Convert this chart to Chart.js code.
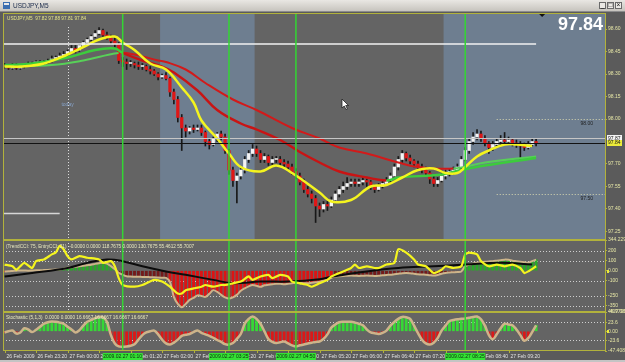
<!DOCTYPE html>
<html>
<head>
<meta charset="utf-8">
<script src="https://cdn.jsdelivr.net/npm/chart.js@4.4.1/dist/chart.umd.min.js"></script>
<style>
  html, body { margin: 0; padding: 0; background: #5b5b5b; overflow: hidden; }
  #mt { display: block; }
</style>
</head>
<body>
<canvas id="mt" width="625" height="362"></canvas>
<script>
// USDJPY M5, bar 0 = 26 Feb 2009 22:40, one bar every 5 minutes
const barOpen = [
  98.36,98.35,98.34,98.36,98.34,98.35,98.36,98.37,98.36,98.38,
  98.37,98.38,98.39,98.40,98.41,98.42,98.43,98.45,98.47,98.46,
  98.49,98.51,98.53,98.55,98.57,98.59,98.56,98.54,98.52,98.50,
  98.39,98.38,98.37,98.37,98.36,98.35,98.35,98.33,98.32,98.30,
  98.28,98.29,98.27,98.18,98.13,98.01,97.94,97.92,97.94,97.93,
  97.94,97.91,97.85,97.83,97.87,97.90,97.88,97.79,97.66,97.59,
  97.62,97.66,97.73,97.77,97.80,97.77,97.73,97.75,97.71,97.73,
  97.73,97.71,97.70,97.68,97.65,97.62,97.58,97.53,97.50,97.47,
  97.42,97.40,97.43,97.42,97.46,97.50,97.53,97.55,97.57,97.58,
  97.57,97.58,97.59,97.58,97.55,97.53,97.55,97.57,97.59,97.62,
  97.68,97.73,97.77,97.74,97.72,97.70,97.68,97.66,97.64,97.60,
  97.57,97.59,97.62,97.64,97.65,97.66,97.68,97.73,97.79,97.85,
  97.88,97.90,97.87,97.84,97.81,97.83,97.85,97.86,97.85,97.86,
  97.84,97.83,97.82,97.81,97.83,97.85
];
const barHigh = [
  98.37,98.36,98.37,98.37,98.36,98.37,98.38,98.38,98.39,98.39,
  98.39,98.40,98.42,98.42,98.44,98.45,98.46,98.49,98.49,98.50,
  98.52,98.54,98.56,98.59,98.61,98.60,98.58,98.56,98.54,98.51,
  98.41,98.40,98.39,98.38,98.38,98.37,98.36,98.35,98.33,98.31,
  98.30,98.31,98.28,98.20,98.15,98.03,97.96,97.95,97.96,97.96,
  97.96,97.92,97.87,97.88,97.91,97.92,97.90,97.80,97.68,97.64,
  97.68,97.75,97.79,97.83,97.82,97.79,97.77,97.76,97.75,97.75,
  97.75,97.73,97.72,97.70,97.67,97.64,97.60,97.55,97.52,97.49,
  97.44,97.45,97.45,97.48,97.52,97.55,97.58,97.61,97.60,97.60,
  97.60,97.61,97.60,97.59,97.56,97.57,97.59,97.61,97.64,97.70,
  97.75,97.79,97.78,97.76,97.73,97.72,97.70,97.68,97.65,97.62,
  97.61,97.64,97.66,97.67,97.68,97.70,97.75,97.81,97.87,97.91,
  97.93,97.92,97.89,97.85,97.85,97.87,97.89,97.91,97.88,97.87,
  97.86,97.85,97.84,97.85,97.87,97.87
];
const barLow = [
  98.34,98.33,98.33,98.33,98.33,98.34,98.35,98.35,98.35,98.36,
  98.36,98.37,98.38,98.39,98.40,98.41,98.42,98.44,98.44,98.45,
  98.48,98.50,98.52,98.54,98.56,98.55,98.53,98.50,98.48,98.37,
  98.35,98.33,98.35,98.34,98.33,98.33,98.32,98.30,98.29,98.26,
  98.27,98.26,98.15,98.10,97.98,97.79,97.88,97.90,97.91,97.92,
  97.89,97.82,97.80,97.82,97.85,97.86,97.77,97.63,97.55,97.44,
  97.60,97.64,97.71,97.75,97.75,97.71,97.71,97.69,97.69,97.71,
  97.69,97.68,97.66,97.63,97.60,97.56,97.51,97.48,97.44,97.31,
  97.35,97.38,97.39,97.41,97.44,97.48,97.51,97.53,97.55,97.55,
  97.55,97.56,97.55,97.53,97.51,97.52,97.54,97.56,97.58,97.61,
  97.66,97.71,97.72,97.70,97.68,97.66,97.64,97.62,97.57,97.55,
  97.55,97.58,97.60,97.62,97.63,97.64,97.67,97.72,97.77,97.83,
  97.86,97.85,97.82,97.77,97.79,97.81,97.83,97.83,97.83,97.82,
  97.81,97.73,97.79,97.80,97.82,97.82
];
const barClose = [
  98.35,98.34,98.36,98.34,98.35,98.36,98.37,98.36,98.38,98.37,
  98.38,98.39,98.40,98.41,98.42,98.43,98.45,98.47,98.46,98.49,
  98.51,98.53,98.55,98.57,98.59,98.56,98.54,98.52,98.50,98.39,
  98.38,98.37,98.37,98.36,98.35,98.35,98.33,98.32,98.30,98.28,
  98.29,98.27,98.18,98.13,98.01,97.94,97.92,97.94,97.93,97.94,
  97.91,97.85,97.83,97.87,97.90,97.88,97.79,97.66,97.59,97.62,
  97.66,97.73,97.77,97.80,97.77,97.73,97.75,97.71,97.73,97.73,
  97.71,97.70,97.68,97.65,97.62,97.58,97.53,97.50,97.47,97.42,
  97.40,97.43,97.42,97.46,97.50,97.53,97.55,97.57,97.58,97.57,
  97.58,97.59,97.58,97.55,97.53,97.55,97.57,97.59,97.62,97.68,
  97.73,97.77,97.74,97.72,97.70,97.68,97.66,97.64,97.60,97.57,
  97.59,97.62,97.64,97.65,97.66,97.68,97.73,97.79,97.85,97.88,
  97.90,97.87,97.84,97.81,97.83,97.85,97.86,97.85,97.86,97.84,
  97.83,97.82,97.81,97.83,97.85,97.84
];

// moving averages, [bar, price]
const maYellow = [[0,98.35],[4,98.35],[10,98.37],[16,98.43],[20,98.48],[24,98.53],[28,98.55],[30,98.51],
  [33,98.46],[37,98.37],[41,98.33],[45,98.21],[48,98.11],[50,97.99],[54,97.87],[57,97.77],[60,97.68],
  [65,97.65],[69,97.69],[73,97.64],[80,97.51],[83,97.45],[88,97.46],[93,97.55],[97,97.56],[101,97.61],
  [105,97.66],[109,97.67],[112,97.64],[115,97.64],[117,97.68],[120,97.75],[123,97.79],[127,97.83],
  [130,97.83],[134,97.82]];
const maSlow = [[0,98.35],[12,98.36],[20,98.39],[29,98.44],[33,98.43],[39,98.39],[41,98.38],[46,98.33],
  [51,98.24],[58,98.13],[64,98.06],[73,97.94],[80,97.87],[85,97.81],[92,97.77],[100,97.71],[105,97.68],
  [114,97.67],[122,97.71],[135,97.75]];
const maFast = [[0,98.36],[7,98.37],[16,98.41],[23,98.46],[28,98.47],[30,98.44],[35,98.39],[40,98.35],
  [43,98.31],[49,98.19],[54,98.06],[60,97.97],[64,97.93],[70,97.86],[75,97.78],[80,97.71],[85,97.65],
  [92,97.61],[97,97.59],[100,97.61],[111,97.63],[116,97.66],[122,97.69],[135,97.74]];

// TrendCCI histogram, one value per bar
const cciTrend = [
  -8,-6,-3,0,3,2,0,2,5,4,6,8,10,12,
  12,20,30,35,40,45,50,55,60,68,75,80,70,45,15,
  -20,-40,-55,-58,-60,-60,-62,-62,-65,-65,-68,-70,-72,-110,
  -260,-330,-362,-330,-290,-270,-245,-250,-260,
  -230,-193,-210,-240,-265,-277,-265,
  -240,-200,-175,-155,-142,-150,-160,
  -145,-140,-135,-130,-130,-135,-130,-125,-120,
  -120,-125,-125,-120,-115,-110,-100,-85,-70,
  -58,-55,-52,-50,-48,-50,-52,-50,-48,-50,-52,-50,-45,-42,-40,-35,
  -30,-25,-22,-25,-30,-35,-38,-40,-45,-48,-42,
  -30,-22,-18,-15,-12,-8,
  45,60,70,80,85,88,92,95,100,105,110,108,100,95,90,85,80,95,110
];
// EntryCCI and signal line, [bar, value]
const cciEntry = [[0,61],[2,44],[3,10],[4,44],[5,78],[7,27],[8,95],[10,112],[12,162],[13,180],[14,247],
  [15,213],[16,145],[17,112],[19,145],[21,129],[24,112],[25,78],[27,95],[28,44],[29,-74],[30,-142],
  [33,-159],[35,-142],[38,-91],[40,-108],[42,-159],[44,-227],[45,-227],[46,-193],[48,-176],[50,-159],
  [51,-142],[53,-159],[55,-142],[56,-142],[58,-125],[60,-108],[62,-57],[63,-91],[65,-57],[67,-41],
  [68,-74],[70,-41],[72,-57],[73,-108],[75,-125],[77,-142],[78,-159],[80,-125],[82,-91],[83,-57],
  [86,-7],[88,27],[89,61],[90,27],[92,44],[94,27],[95,27],[97,61],[99,78],[100,213],[102,180],
  [104,112],[105,61],[107,44],[109,-23],[111,10],[112,44],[114,27],[116,44],[117,162],[118,180],
  [120,162],[121,95],[123,44],[125,61],[127,44],[129,61],[131,27],[132,-23],[133,-7],[135,44]];
const cciSignal = [[0,-58],[7,-23],[16,27],[21,78],[26,112],[30,95],[35,44],[41,-7],[46,-41],[53,-91],
  [58,-125],[65,-108],[72,-108],[80,-85],[83,-60],[92,-7],[100,27],[109,44],[117,61],[126,78],[134,61]];

// Stochastic (5,1,3) histogram, one value per bar
const stochHist = [
  -3,0,2,-6,-3,8,5,-2,4,12,
  20,24,26,25,23,20,12,5,-3,3,
  15,25,30,35,38,37,25,-10,-32,-40,
  -41,-40,-38,-34,-22,-10,-3,0,2,-8,
  -22,-32,-35,-30,-22,-12,-9,-7,-2,2,
  -4,-8,-12,-17,-23,-28,-34,-35,-31,-20,
  -7,20,33,39,33,20,0,-20,-28,-31,
  -29,-27,-32,-37,-40,-37,-35,-32,-30,-28,
  -27,-20,-8,10,18,24,25,25,25,23,
  20,16,5,-3,-5,-7,-4,2,15,25,
  33,38,37,33,15,-5,-22,-32,-35,-30,
  -18,2,15,27,30,32,33,34,36,38,
  39,32,15,-10,-21,-8,8,20,18,16,
  5,-10,-25,-18,-2,16
];

// time axis
const timeIdx = [0,8,16,24,32,40,48,56,64,72,80,88,96,104,112,120,128];
const timeLabels = ["26 Feb 2009","26 Feb 23:20","27 Feb 00:00","27 Feb 00:40","27 Feb 01:20","27 Feb 02:00",
  "27 Feb 02:40","27 Feb 03:20","27 Feb 04:00","27 Feb 04:40","27 Feb 05:20","27 Feb 06:00","27 Feb 06:40",
  "27 Feb 07:20","27 Feb 08:00","27 Feb 08:40","27 Feb 09:20"];

// price axis and indicator axes
const priceTicks = [98.60, 98.45, 98.30, 98.15, 98.00, 97.70, 97.55, 97.40, 97.25];
const cciTicks = [305, 200, 100, 0, -100, -250, -350, -410];
const cciTickText = ["344.2290","200","100","0.00","-100","-250","-350","-407.035"];
const cciLevels = [200, 100, -100, -250, -350];
const stochTicks = [51, 23.6, 0, -23.6, -52];
const stochTickText = ["46.9796","23.6","0.00","-23.6","-47.4083"];
const stochLevels = [23.6, -23.6];

// chart objects
const eventIdx = [30, 57, 74, 117];
const eventLabels = ["2009.02.27 01:10","2009.02.27 03:25","2009.02.27 04:50","2009.02.27 08:25"];
const sessionBands = [[39.5, 63.5], [111.5, 153]];
const dottedLevels = [98.00, 97.50];
const dottedFrom = 125;
const whiteLevel = 98.50, whiteTo = 135;
const shortLevel = 97.37, shortTo = 14;
const askLevel = 97.87, bidLevel = 97.84;
const todayIdx = 16;

const GREEN_MA = '#3ccc3c', RED_MA = '#d21a1a';
const slowGreen = x => x < 29 || x >= 114;
const fastGreen = x => x < 29 || x >= 97;
const cciDark = [[29, 41], [84, 116]];

const pairs = arr => arr.map(([x, y]) => ({x, y}));
const perBar = arr => arr.map((y, x) => ({x, y}));

function hline(ctx, x0, x1, y) { ctx.beginPath(); ctx.moveTo(x0, y); ctx.lineTo(x1, y); ctx.stroke(); }
function vline(ctx, x, y0, y1) { ctx.beginPath(); ctx.moveTo(x, y0); ctx.lineTo(x, y1); ctx.stroke(); }
const half = v => Math.round(v) + 0.5;

const mtFrame = {
  id: 'mtFrame',
  beforeDraw(chart) {
    const {ctx, chartArea: a, scales: {x, yP, yC, yS}} = chart;
    ctx.save();
    ctx.fillStyle = '#5b5b5b';
    ctx.fillRect(0, 0, chart.width, chart.height);
    [yP, yC, yS].forEach(s => {
      ctx.fillStyle = '#646464';
      ctx.fillRect(a.left, s.top, a.right - a.left, s.bottom - s.top);
    });
    ctx.fillStyle = '#6e7e90';
    sessionBands.forEach(([b0, b1]) => {
      const x0 = Math.max(a.left, x.getPixelForValue(b0));
      const x1 = Math.min(a.right, x.getPixelForValue(b1));
      ctx.fillRect(x0, yP.top, x1 - x0, yP.bottom - yP.top);
    });
    ctx.lineWidth = 1;
    ctx.strokeStyle = '#cfcfcf';
    ctx.setLineDash([1, 2]);
    cciLevels.forEach(v => hline(ctx, a.left, a.right, half(yC.getPixelForValue(v))));
    stochLevels.forEach(v => hline(ctx, a.left, a.right, half(yS.getPixelForValue(v))));
    ctx.strokeStyle = '#dddddd';
    vline(ctx, half(x.getPixelForValue(todayIdx)), yP.top + 14, yC.bottom);
    ctx.setLineDash([]);
    ctx.restore();
  },
  afterDatasetsDraw(chart) {
    const {ctx, chartArea: a, scales: {x, yP}} = chart;
    ctx.save();
    // dotted price levels with their labels
    ctx.setLineDash([1, 2]);
    ctx.strokeStyle = '#d8d8b0';
    ctx.lineWidth = 1;
    ctx.font = '5px "Liberation Sans"';
    ctx.fillStyle = '#1e1e1e';
    ctx.textAlign = 'right';
    ctx.textBaseline = 'top';
    dottedLevels.forEach(v => {
      const y = half(yP.getPixelForValue(v));
      hline(ctx, x.getPixelForValue(dottedFrom), a.right, y);
      ctx.fillText(v.toFixed(2), a.right - 12, y + 2);
    });
    ctx.setLineDash([]);
    ctx.lineWidth = 1.5;
    ctx.strokeStyle = '#f2f2f2';
    hline(ctx, a.left, x.getPixelForValue(whiteTo), yP.getPixelForValue(whiteLevel));
    ctx.strokeStyle = '#d6d6d6';
    hline(ctx, a.left, x.getPixelForValue(shortTo), yP.getPixelForValue(shortLevel));
    ctx.lineWidth = 1.2;
    ctx.strokeStyle = '#c6c6c6';
    hline(ctx, a.left, a.right, yP.getPixelForValue(askLevel));
    ctx.lineWidth = 1;
    ctx.strokeStyle = '#121212';
    hline(ctx, a.left, a.right, half(yP.getPixelForValue(bidLevel)));
    // vertical event lines
    ctx.strokeStyle = '#33d633';
    ctx.lineWidth = 1.5;
    eventIdx.forEach(i => vline(ctx, x.getPixelForValue(i), yP.top, a.bottom));
    ctx.restore();
  },
  afterDraw(chart) {
    const {ctx, chartArea: a, scales: {x, yP, yC, yS}} = chart;
    ctx.save();
    // pane frames
    ctx.strokeStyle = '#b2b23c';
    ctx.lineWidth = 1;
    [yP, yC, yS].forEach(s => ctx.strokeRect(a.left + 0.5, half(s.top), a.right - a.left, Math.round(s.bottom - s.top) - 1));

    // pane captions
    ctx.textAlign = 'left';
    ctx.textBaseline = 'top';
    ctx.font = '4.7px "Liberation Sans"';
    ctx.fillStyle = '#e4e488';
    ctx.fillText('USDJPY,M5  97.82 97.88 97.81 97.84', a.left + 4, yP.top + 3);
    ctx.fillStyle = '#e8e8c0';
    ctx.fillText('(TrendCCI: 75, EntryCCI: 21)  -0.0000 0.0000 118.7675 0.0000 130.7675 55.4612 55.7007', a.left + 3, yC.top + 4);
    ctx.fillText('Stochastic (5,1,3)  0.0000 0.0000 16.6667 16.6667 16.6667 16.6667', a.left + 3, yS.top + 3);

    // today label
    ctx.textAlign = 'center';
    ctx.fillStyle = '#86a2c8';
    ctx.font = '5px "Liberation Sans"';
    ctx.fillText('today', x.getPixelForValue(todayIdx), yP.getPixelForValue(98.11));

    // big last price
    ctx.textAlign = 'right';
    ctx.textBaseline = 'alphabetic';
    ctx.fillStyle = '#ffffff';
    ctx.font = 'bold 18px "Liberation Sans"';
    ctx.fillText(barClose[barClose.length - 1].toFixed(2), a.right - 2, yP.top + 17);

    // shift marker
    ctx.fillStyle = '#111';
    const sx = x.getPixelForValue(barClose.length - 1) + 6;
    ctx.beginPath(); ctx.moveTo(sx - 3, yP.top + 1); ctx.lineTo(sx + 3, yP.top + 1); ctx.lineTo(sx, yP.top + 4); ctx.fill();

    // price tags on the axis
    ctx.font = '5px "Liberation Sans"';
    ctx.textAlign = 'left';
    ctx.textBaseline = 'middle';
    [[askLevel, '#f4f4f4'], [bidLevel, '#ecec3a']].forEach(([v, c]) => {
      const y = yP.getPixelForValue(v);
      ctx.fillStyle = c;
      ctx.fillRect(a.right + 2, Math.round(y) - 3, 15, 6);
      ctx.fillStyle = '#151515';
      ctx.fillText(v.toFixed(2), a.right + 3, y);
    });
    ctx.fillStyle = '#ecec3a';
    [[yC, 0], [yS, 0]].forEach(([s, v]) => ctx.fillRect(a.right + 2, Math.round(s.getPixelForValue(v)) - 1, 2, 3));

    // time axis labels and tick marks
    ctx.textAlign = 'left';
    ctx.fillStyle = '#e2e2e2';
    ctx.strokeStyle = '#b2b23c';
    ctx.lineWidth = 1;
    timeIdx.forEach((i, k) => {
      const tx = half(x.getPixelForValue(i));
      vline(ctx, tx, a.bottom, a.bottom + 2);
      ctx.fillText(timeLabels[k], tx + 1, a.bottom + 5.5);
    });

    // event labels on the time axis
    ctx.textAlign = 'center';
    eventIdx.forEach((i, k) => {
      const cx = x.getPixelForValue(i);
      ctx.fillStyle = '#34e234';
      ctx.fillRect(cx - 20, a.bottom + 2, 40, 7);
      ctx.fillStyle = '#0e300e';
      ctx.fillText(eventLabels[k], cx, a.bottom + 5.5);
    });

    // window title bar
    const g = ctx.createLinearGradient(0, 0, 0, 11);
    g.addColorStop(0, '#e9e7e3');
    g.addColorStop(1, '#c7c4be');
    ctx.fillStyle = g;
    ctx.fillRect(0, 0, chart.width, 11);
    ctx.fillStyle = '#8c8c8c';
    ctx.fillRect(0, 11, chart.width, 1);
    ctx.fillStyle = '#3c6fb0';
    ctx.fillRect(3, 2, 7, 7);
    ctx.fillStyle = '#e8e8e8';
    ctx.fillRect(4, 3, 5, 2);
    ctx.fillStyle = '#1a2a4a';
    ctx.font = '6.5px "Liberation Sans"';
    ctx.textAlign = 'left';
    ctx.textBaseline = 'middle';
    ctx.fillText('USDJPY,M5', 13, 6);
    ['_', '□', '×'].forEach((t, k) => {
      const bx = 599 + k * 8;
      ctx.fillStyle = '#ebe9e5';
      ctx.fillRect(bx, 2, 7, 7);
      ctx.strokeStyle = '#6a6a6a';
      ctx.strokeRect(bx + 0.5, 2.5, 6, 6);
      ctx.fillStyle = '#111';
      ctx.textAlign = 'center';
      ctx.fillText(t, bx + 3.5, 5.5);
    });

    // window bottom edge
    ctx.fillStyle = '#c4c4c4';
    ctx.fillRect(0, chart.height - 2, chart.width, 2);

    // mouse pointer
    ctx.translate(342, 99);
    ctx.beginPath();
    ctx.moveTo(0, 0); ctx.lineTo(0, 9); ctx.lineTo(2.2, 7); ctx.lineTo(4, 10.5);
    ctx.lineTo(5.4, 9.8); ctx.lineTo(3.7, 6.5); ctx.lineTo(6.5, 6.5); ctx.closePath();
    ctx.fillStyle = '#ffffff';
    ctx.fill();
    ctx.strokeStyle = '#111';
    ctx.lineWidth = 0.7;
    ctx.stroke();
    ctx.restore();
  }
};

Chart.defaults.font.family = '"Liberation Sans", Arial, sans-serif';

const axisLine = '#b2b23c';
const yAxisBase = {
  type: 'linear',
  position: 'right',
  stack: 'panes',
  afterFit: s => { s.width = 20; },
  grid: { drawOnChartArea: false, drawTicks: true, tickLength: 2, color: axisLine },
  border: { color: axisLine },
};

new Chart('mt', {
  type: 'bar',
  data: {
    datasets: [
      { type: 'bar', yAxisID: 'yP', grouped: false, order: 30, barThickness: 1,
        data: barLow.map((l, i) => ({x: i, y: [l, barHigh[i]]})),
        backgroundColor: '#181818' },
      { type: 'bar', yAxisID: 'yP', grouped: false, order: 29, barThickness: 2.6, minBarLength: 1,
        data: barOpen.map((o, i) => ({x: i, y: [o, barClose[i]]})),
        backgroundColor: c => barClose[c.dataIndex] > barOpen[c.dataIndex] ? '#f4f4f4'
          : (barClose[c.dataIndex] < barOpen[c.dataIndex] ? '#e01616' : '#e6e6e6') },
      { type: 'line', yAxisID: 'yP', order: 8, data: pairs(maSlow), borderWidth: 2, pointRadius: 0, tension: 0.4,
        borderColor: RED_MA, segment: { borderColor: c => slowGreen(c.p0.parsed.x) ? '#58d058' : RED_MA } },
      { type: 'line', yAxisID: 'yP', order: 7, data: pairs(maFast), borderWidth: 2.4, pointRadius: 0, tension: 0.4,
        borderColor: RED_MA, segment: { borderColor: c => fastGreen(c.p0.parsed.x) ? GREEN_MA : '#c91414' } },
      { type: 'line', yAxisID: 'yP', order: 6, data: pairs(maYellow), borderColor: '#f4f41e', borderWidth: 2.5,
        pointRadius: 0, tension: 0.4 },

      { type: 'bar', yAxisID: 'yC', grouped: false, order: 30, barThickness: 2.2, data: perBar(cciTrend),
        backgroundColor: c => {
          const v = c.raw.y, i = c.dataIndex;
          if (v >= 0) return '#2aa82a';
          return cciDark.some(([p, q]) => i >= p && i <= q) ? '#731a1a' : '#dc1414';
        } },
      { type: 'line', yAxisID: 'yC', order: 20, data: perBar(cciTrend), borderColor: '#cdb48a', borderWidth: 2,
        pointRadius: 0, tension: 0.3 },
      { type: 'line', yAxisID: 'yC', order: 10, data: pairs(cciSignal), borderColor: '#0c0c0c', borderWidth: 2,
        pointRadius: 0, tension: 0.4 },
      { type: 'line', yAxisID: 'yC', order: 9, data: pairs(cciEntry), borderColor: '#f4f41e', borderWidth: 2.2,
        pointRadius: 0, tension: 0.2 },

      { type: 'bar', yAxisID: 'yS', grouped: false, order: 30, barThickness: 2.2, data: perBar(stochHist),
        backgroundColor: c => c.raw.y >= 0 ? '#36d836' : '#dc1818' },
      { type: 'line', yAxisID: 'yS', order: 20, data: perBar(stochHist), borderColor: '#cdb48a', borderWidth: 2.5,
        pointRadius: 0, tension: 0.35 }
    ]
  },
  options: {
    responsive: false,
    devicePixelRatio: 1,
    animation: false,
    events: [],
    layout: { padding: { top: 13, left: 3, right: 0, bottom: 0 } },
    plugins: { legend: { display: false }, tooltip: { enabled: false } },
    scales: {
      x: {
        type: 'linear', position: 'bottom', min: -0.4, max: 152.5, offset: false,
        afterFit: s => { s.height = 11; },
        grid: { display: false }, border: { display: false },
        ticks: { display: false }
      },
      yP: Object.assign({}, yAxisBase, {
        stackWeight: 227, min: 97.1933, max: 98.7067,
        afterBuildTicks: s => { s.ticks = priceTicks.map(v => ({value: v})); },
        ticks: { autoSkip: false, padding: 1, color: '#e6e6a6', font: { size: 5 }, callback: v => v.toFixed(2) }
      }),
      yC: Object.assign({}, yAxisBase, {
        stackWeight: 72, min: -410, max: 305,
        afterBuildTicks: s => { s.ticks = cciTicks.map(v => ({value: v})); },
        ticks: { autoSkip: false, padding: 1, color: '#e6e6a6', font: { size: 5 }, callback: (v, i) => cciTickText[i] }
      }),
      yS: Object.assign({}, yAxisBase, {
        stackWeight: 39, min: -52, max: 51,
        afterBuildTicks: s => { s.ticks = stochTicks.map(v => ({value: v})); },
        ticks: { autoSkip: false, padding: 1, color: '#e6e6a6', font: { size: 5 }, callback: (v, i) => stochTickText[i] }
      })
    }
  },
  plugins: [mtFrame]
});
</script>
</body>
</html>
